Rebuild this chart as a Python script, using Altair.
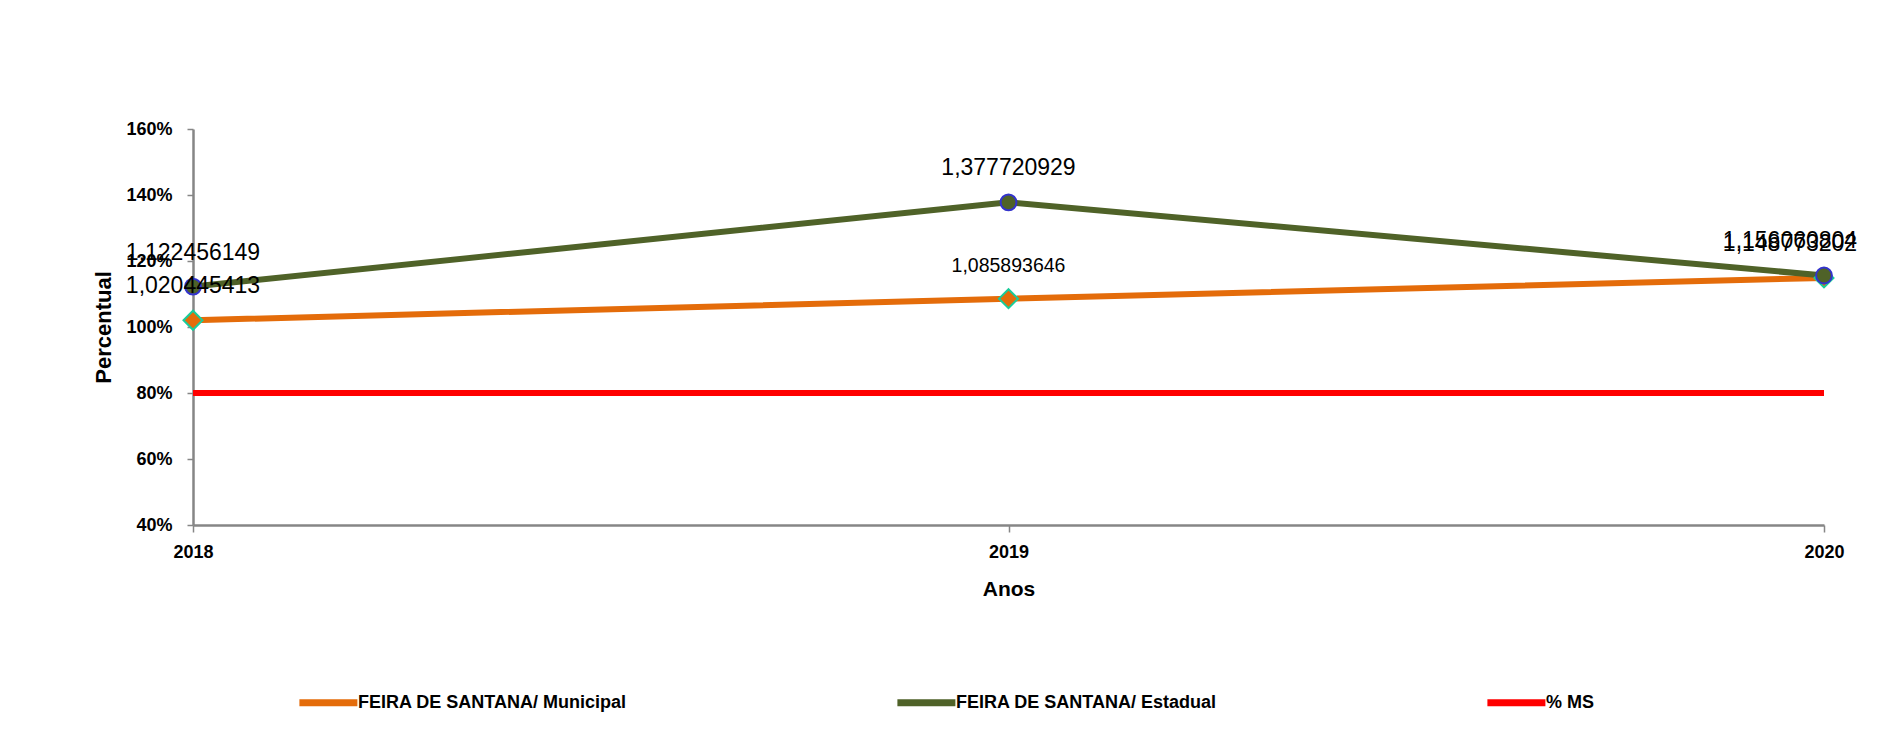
import altair as alt
import pandas as pd

# ---- data ----
anos = ["2018", "2019", "2020"]
serie_municipal = "FEIRA DE SANTANA/ Municipal"
serie_estadual = "FEIRA DE SANTANA/ Estadual"
serie_ms = "% MS"
municipal = [1.020445413, 1.085893646, 1.148773202]
estadual = [1.122456149, 1.377720929, 1.156060804]
ms = [0.8, 0.8, 0.8]
y_ticks = [0.4, 0.6, 0.8, 1.0, 1.2, 1.4, 1.6]

series = [serie_municipal, serie_estadual, serie_ms]
cores = ["#E46C0A", "#4F6228", "#FF0000"]

rows = []
for nome, vals in [(serie_municipal, municipal), (serie_estadual, estadual), (serie_ms, ms)]:
    for a, v in zip(anos, vals):
        rows.append({"serie": nome, "ano": a, "valor": v})
df = pd.DataFrame(rows)

FONT = "Liberation Sans"
GRAY = "#868686"

x = alt.X(
    "ano:O",
    scale=alt.Scale(type="point", padding=0),
    axis=alt.Axis(
        title="Anos", labelAngle=0, labelFontSize=18, labelFontWeight="bold",
        labelFont=FONT, labelColor="black", labelPadding=11, tickSize=7,
        tickColor=GRAY, tickWidth=1.5, domainColor=GRAY, domainWidth=2.5,
        titleFont=FONT, titleFontSize=21, titleFontWeight="bold", titleColor="black",
        titlePadding=17, grid=False,
    ),
)
y = alt.Y(
    "valor:Q",
    scale=alt.Scale(domain=[0.4, 1.6], nice=False, zero=False),
    axis=alt.Axis(
        values=y_ticks, format=".0%", title="Percentual", labelFontSize=18,
        labelFontWeight="bold", labelFont=FONT, labelColor="black", labelPadding=15,
        tickSize=6, tickColor=GRAY, tickWidth=1.5, domainColor=GRAY, domainWidth=2.5,
        titleFont=FONT, titleFontSize=22, titleFontWeight="bold", titleColor="black",
        titlePadding=10, grid=False,
    ),
)

base = alt.Chart(df)

linhas = base.mark_line(strokeWidth=6).encode(
    x=x,
    y=y,
    color=alt.Color(
        "serie:N",
        scale=alt.Scale(domain=series, range=cores),
        sort=series,
        legend=alt.Legend(
            title=None, orient="none", direction="horizontal",
            legendX=100, legendY=541, padding=0,
            symbolType="M-0.9,0L1.1,0", symbolSize=3364, symbolStrokeWidth=7,
            labelFont=FONT, labelFontSize=18, labelFontWeight="bold",
            labelColor="black", labelOffset=0, columnPadding=256,
            labelLimit=400,
        ),
    ),
)

diamantes = base.transform_filter(alt.datum.serie == serie_municipal).mark_point(
    shape="diamond", filled=True, fill="#E46C0A", stroke="#1ACC9A",
    strokeWidth=2, size=360, opacity=1,
).encode(x=x, y=y)

circulos = base.transform_filter(alt.datum.serie == serie_estadual).mark_point(
    shape="circle", filled=True, fill="#4F6228", stroke="#3333CC",
    strokeWidth=2, size=250, opacity=1,
).encode(x=x, y=y)

txt_expr = "replace(format(datum.valor, '.9f'), '.', ',')"
small_cond = "datum.serie == 'FEIRA DE SANTANA/ Municipal' && datum.ano == '2019'"

rotulos = base.transform_filter(
    "datum.serie != '% MS' && datum.ano != '2020'"
).transform_calculate(txt=txt_expr).mark_text(
    dy=-27, baseline="alphabetic", align="center", font=FONT, color="black",
).encode(
    x=x, y=y, text="txt:N",
    size=alt.condition(small_cond, alt.value(19.5), alt.value(23)),
)

rotulos_2020 = base.transform_filter(
    "datum.serie != '% MS' && datum.ano == '2020'"
).transform_calculate(txt=txt_expr).mark_text(
    dy=-27, dx=-34, baseline="alphabetic", align="center", font=FONT,
    color="black", fontSize=23,
).encode(x=x, y=y, text="txt:N")

chart = alt.layer(linhas, diamantes, circulos, rotulos, rotulos_2020).properties(
    width=1631,
    height=396,
    autosize=alt.AutoSizeParams(type="none"),
    padding={"left": 185, "top": 121, "right": 45, "bottom": 218},
    background="white",
).configure_view(stroke=None)

chart.save("out.html", embed_options={"renderer": "svg", "actions": False})
